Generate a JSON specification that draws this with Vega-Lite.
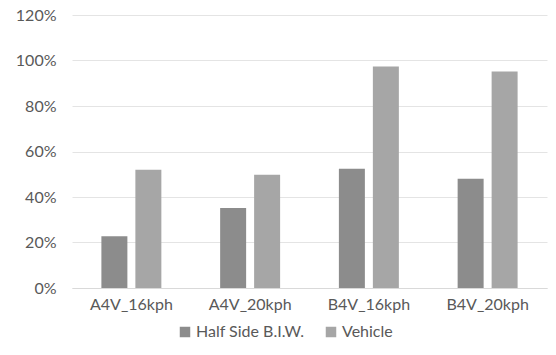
{
  "$schema": "https://vega.github.io/schema/vega-lite/v6.json",
  "autosize": "none",
  "width": 475,
  "height": 273,
  "padding": {"left": 72, "top": 15, "right": 9, "bottom": 67},
  "background": "white",
  "data": {
    "values": [
      {"test": "A4V_16kph", "series": "Half Side B.I.W.", "ratio": 0.227},
      {"test": "A4V_16kph", "series": "Vehicle", "ratio": 0.52},
      {"test": "A4V_20kph", "series": "Half Side B.I.W.", "ratio": 0.352},
      {"test": "A4V_20kph", "series": "Vehicle", "ratio": 0.498},
      {"test": "B4V_16kph", "series": "Half Side B.I.W.", "ratio": 0.524},
      {"test": "B4V_16kph", "series": "Vehicle", "ratio": 0.974},
      {"test": "B4V_20kph", "series": "Half Side B.I.W.", "ratio": 0.48},
      {"test": "B4V_20kph", "series": "Vehicle", "ratio": 0.952}
    ]
  },
  "mark": {"type": "bar"},
  "encoding": {
    "x": {
      "field": "test",
      "type": "nominal",
      "sort": null,
      "scale": {"paddingInner": 0.495, "paddingOuter": 0.2475},
      "axis": {
        "title": null,
        "labelAngle": 0,
        "ticks": false,
        "domainColor": "#d9d9d9",
        "labelPadding": 8,
        "grid": false
      }
    },
    "xOffset": {
      "field": "series",
      "type": "nominal",
      "sort": ["Half Side B.I.W.", "Vehicle"],
      "scale": {"paddingInner": 0.235, "paddingOuter": 0}
    },
    "y": {
      "field": "ratio",
      "type": "quantitative",
      "scale": {"domain": [0, 1.2], "nice": false},
      "axis": {
        "title": null,
        "format": ".0%",
        "values": [0, 0.2, 0.4, 0.6, 0.8, 1.0, 1.2],
        "domain": false,
        "ticks": false,
        "labelPadding": 16,
        "gridColor": "#e4e4e4"
      }
    },
    "color": {
      "field": "series",
      "type": "nominal",
      "sort": ["Half Side B.I.W.", "Vehicle"],
      "scale": {"range": ["#8c8c8c", "#a6a6a6"]},
      "legend": {
        "title": null,
        "orient": "none",
        "legendX": 105,
        "legendY": 309,
        "direction": "horizontal",
        "symbolType": "square",
        "symbolSize": 110,
        "symbolStrokeWidth": 0,
        "labelOffset": 3,
        "columnPadding": 18
      }
    }
  },
  "config": {
    "view": {"stroke": null},
    "font": "Lato",
    "axis": {"labelFont": "Lato", "labelFontSize": 16, "labelColor": "#595959"},
    "legend": {
      "labelFont": "Lato",
      "labelFontSize": 16,
      "labelColor": "#595959"
    }
  }
}
